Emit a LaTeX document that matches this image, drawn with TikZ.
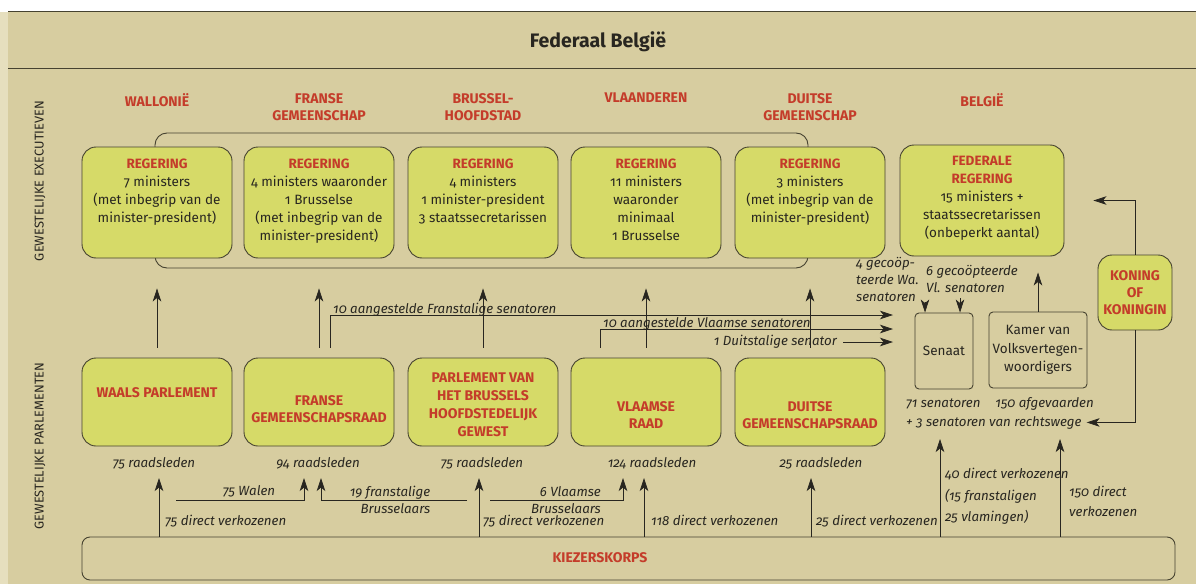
\documentclass[tikz,border=0pt]{standalone}
\usepackage{fontspec}
\setmainfont{Fira Sans}[Numbers=OldStyle]
\usetikzlibrary{arrows.meta}
\definecolor{bg}{RGB}{215,205,160}
\definecolor{bgl}{RGB}{230,223,190}
\definecolor{boxfill}{RGB}{214,218,104}
\definecolor{redt}{RGB}{196,60,42}
\definecolor{ink}{RGB}{40,38,32}
\definecolor{edge}{RGB}{70,66,48}
\begin{document}
\begin{tikzpicture}[x=1pt,y=-1pt,
  font=\fontsize{13.5}{18}\selectfont,
  ybox/.style={draw=edge,line width=0.9pt,fill=boxfill,rounded corners=14pt,inner sep=0pt},
  gbox/.style={ybox,minimum width=150pt,minimum height=111pt},
  pbox/.style={ybox,minimum width=150pt,minimum height=88pt},
  sbox/.style={draw=edge,line width=0.9pt,rounded corners=4pt,inner sep=0pt,align=center,text=ink,font=\fontsize{13.5}{18.5}\selectfont},
  hdr/.style={text=redt,font=\fontsize{14}{17}\selectfont\bfseries,align=center,inner sep=0pt},
  btxt/.style={text=ink,align=center,anchor=north,inner sep=0pt},
  lbl/.style={text=ink,font=\fontsize{13.3}{17}\selectfont\itshape,inner sep=0pt},
  arr/.style={draw=ink,line width=0.7pt,-{Stealth[length=13pt,width=8.5pt,inset=3.5pt]}},
]
\useasboundingbox (0,0) rectangle (1196,586);
% background
\fill[white] (0,0) rectangle (1196,586);
\fill[bg] (0,12) rectangle (1196,584);
\fill[bgl] (0,12) rectangle (8,584);
\draw[edge,line width=1pt] (8,12) -- (1196,12);
\draw[edge,line width=1pt] (8,69) -- (1196,69);
\node[text=ink,font=\fontsize{19.5}{22}\selectfont\bfseries] (title) at (598,42) {Federaal België};

% side labels
\node[rotate=90,text=ink,font=\fontsize{12.8}{14}\selectfont] (sidee) at (40,181) {GEWESTELIJKE EXECUTIEVEN};
\node[rotate=90,text=ink,font=\fontsize{12.8}{14}\selectfont] (sidep) at (40,446) {GEWESTELIJKE PARLEMENTEN};

% headers
\node[hdr,anchor=north] (h1) at (157,93) {WALLONIË};
\node[hdr,anchor=north] (h2) at (319,93) {FRANSE\\GEMEENSCHAP};
\node[hdr,anchor=north] (h3) at (483,93) {BRUSSEL-\\HOOFDSTAD};
\node[hdr,anchor=north] (h4) at (646,93) {VLAANDEREN};
\node[hdr,anchor=north] (h5) at (810,93) {DUITSE\\GEMEENSCHAP};
\node[hdr,anchor=north] (h6) at (982,93) {BELGIË};

% frame grouping the regional governments
\node[draw=edge,line width=0.9pt,rounded corners=12pt,minimum width=653pt,minimum height=135pt,inner sep=0pt] (frame) at (481.5,200.5) {};

% governments
\node[gbox] (g1) at (157,202.5) {};
\node[gbox] (g2) at (319,202.5) {};
\node[gbox] (g3) at (483,202.5) {};
\node[gbox] (g4) at (646,202.5) {};
\node[gbox] (g5) at (810,202.5) {};
\node[ybox,minimum width=164pt,minimum height=111pt] (fed) at (982,200.5) {};

\node[btxt] (g1t) at (g1.north) [yshift=-12pt] {\textcolor{redt}{\bfseries REGERING}\\7 ministers\\(met inbegrip van de\\minister-president)};
\node[btxt] (g2t) at (g2.north) [yshift=-12pt] {\textcolor{redt}{\bfseries REGERING}\\4 ministers waaronder\\1 Brusselse\\(met inbegrip van de\\minister-president)};
\node[btxt] (g3t) at (g3.north) [yshift=-12pt] {\textcolor{redt}{\bfseries REGERING}\\4 ministers\\1 minister-president\\3 staatssecretarissen};
\node[btxt] (g4t) at (g4.north) [yshift=-12pt] {\textcolor{redt}{\bfseries REGERING}\\11 ministers\\waaronder\\minimaal\\1 Brusselse};
\node[btxt] (g5t) at (g5.north) [yshift=-12pt] {\textcolor{redt}{\bfseries REGERING}\\3 ministers\\(met inbegrip van de\\minister-president)};
\node[btxt] (fedt) at (fed.north) [yshift=-11pt] {\textcolor{redt}{\bfseries FEDERALE}\\\textcolor{redt}{\bfseries REGERING}\\15 ministers +\\staatssecretarissen\\(onbeperkt aantal)};

% parliaments
\node[pbox] (p1) at (157,402) {};
\node[pbox] (p2) at (319,402) {};
\node[pbox] (p3) at (483,402) {};
\node[pbox] (p4) at (646,402) {};
\node[pbox] (p5) at (810,402) {};
\node[hdr] (p1t) at (157,393) {WAALS PARLEMENT};
\node[hdr] (p2t) at (319,409) {FRANSE\\GEMEENSCHAPSRAAD};
\node[hdr,font=\fontsize{14}{18}\selectfont\bfseries] (p3t) at (483,405) {PARLEMENT VAN\\HET BRUSSELS\\HOOFDSTEDELIJK\\GEWEST};
\node[hdr] (p4t) at (646,415) {VLAAMSE\\RAAD};
\node[hdr] (p5t) at (810,415) {DUITSE\\GEMEENSCHAPSRAAD};

% parliaments -> governments
\foreach \i in {1,...,5}
  \draw[arr,shorten <=10pt,shorten >=30pt] (p\i.north) -- (g\i.south);

% federal level
\node[sbox,minimum width=58pt,minimum height=76pt] (sen) at (944,351) {Senaat};
\node[sbox,minimum width=98pt,minimum height=76pt] (kam) at (1038,350) {Kamer van\\Volksvertegen-\\woordigers};
\node[ybox,minimum width=74pt,minimum height=75pt,hdr] (kon) at (1135,292.5) {KONING\\OF\\KONINGIN};

\draw[arr,shorten >=16pt] (kam.north) -- (kam.north |- fed.south);
\draw[arr,shorten >=29pt] (kon.north) |- (fed.east);

\node[lbl,anchor=base west] (s71) at (906,407) {71 senatoren};
\node[lbl,anchor=base east] (k150) at (1094,407) {150 afgevaarden};
\node[lbl,anchor=base west] (rw) at (906,426) {+ 3 senatoren van rechtswege};
\draw[arr,shorten >=5pt] (kon.south) |- (rw.east);

% co-opted senators
\node[lbl,anchor=north west,align=left] (wa) at (856,257) {4 gecoöp-\\teerde Wa.\\senatoren};
\node[lbl,anchor=north west,align=left] (vl) at (926,265) {6 gecoöpteerde\\Vl. senatoren};
\coordinate (wa1) at (925,302);
\coordinate (vl1) at (960,298);
\draw[arr] (wa1) -- (wa1 |- sen.north);
\draw[arr] (vl1) -- (vl1 |- sen.north);

% appointed senators
\coordinate (fsen) at (893,315);
\coordinate (vsen) at (893,329);
\coordinate (dsen) at (893,342);
\draw[arr] ([xshift=11pt,yshift=10pt]p2.north) |- (fsen);
\draw[arr] ([xshift=-46pt,yshift=10pt]p4.north) |- (vsen);
\node[lbl,anchor=base west] (fl) at (333,313) {10 aangestelde Franstalige senatoren};
\node[lbl,anchor=base west] (vll) at (603,327) {10 aangestelde Vlaamse senatoren};
\node[lbl,anchor=east] (dl) at (837,342) {1 Duitstalige senator};
\draw[arr] ([xshift=6pt]dl.east) -- (dsen);

% members counts
\node[lbl] (r1) at (154,463) {75 raadsleden};
\node[lbl] (r2) at (318,463) {94 raadsleden};
\node[lbl] (r3) at (482,463) {75 raadsleden};
\node[lbl] (r4) at (652,463) {124 raadsleden};
\node[lbl] (r5) at (821,463) {25 raadsleden};

% electorate
\node[draw=edge,line width=0.9pt,rounded corners=8pt,minimum width=1093pt,minimum height=43pt,inner sep=0pt] (kz) at (628.5,558.5) {};
\node[hdr] (kzt) at (600,558) {KIEZERSKORPS};

\coordinate (t1) at (159,478);
\coordinate (t3) at (479,478);
\coordinate (t4) at (644,478);
\coordinate (t5) at (811,478);
\coordinate (t6) at (940,439);
\coordinate (t7) at (1060,439);
\foreach \t in {t1,t3,t4,t5,t6,t7}
  \draw[arr] (\t |- kz.north) -- (\t);

\node[lbl,anchor=base west] (d1) at (165,525) {75 direct verkozenen};
\node[lbl,anchor=base west] (d3) at (483,525) {75 direct verkozenen};
\node[lbl,anchor=base west] (d4) at (651,525) {118 direct verkozenen};
\node[lbl,anchor=base west] (d5) at (816,525) {25 direct verkozenen};
\node[lbl,anchor=north west,align=left,font=\fontsize{13.3}{21.5}\selectfont\itshape] (d6) at (945,468) {40 direct verkozenen\\(15 franstaligen\\25 vlamingen)};
\node[lbl,anchor=north west,align=left,font=\fontsize{13.3}{20}\selectfont\itshape] (d7) at (1069,486) {150 direct\\verkozenen};

% transfers between councils
\coordinate (w0) at (176,500);
\coordinate (w1) at (304,478);
\coordinate (b0) at (467,500);
\coordinate (b1) at (321,478);
\coordinate (v0) at (490,500);
\coordinate (v1) at (623,478);
\draw[arr] (w0) -| (w1);
\draw[arr] (b0) -| (b1);
\draw[arr] (v0) -| (v1);
\node[lbl] (wl) at (249,491) {75 Walen};
\node[lbl,align=right] (bl) at (390,500) {19 franstalige\\Brusselaars};
\node[lbl,align=right] (vb) at (566,500) {6 Vlaamse\\Brusselaars};
\end{tikzpicture}
\end{document}
